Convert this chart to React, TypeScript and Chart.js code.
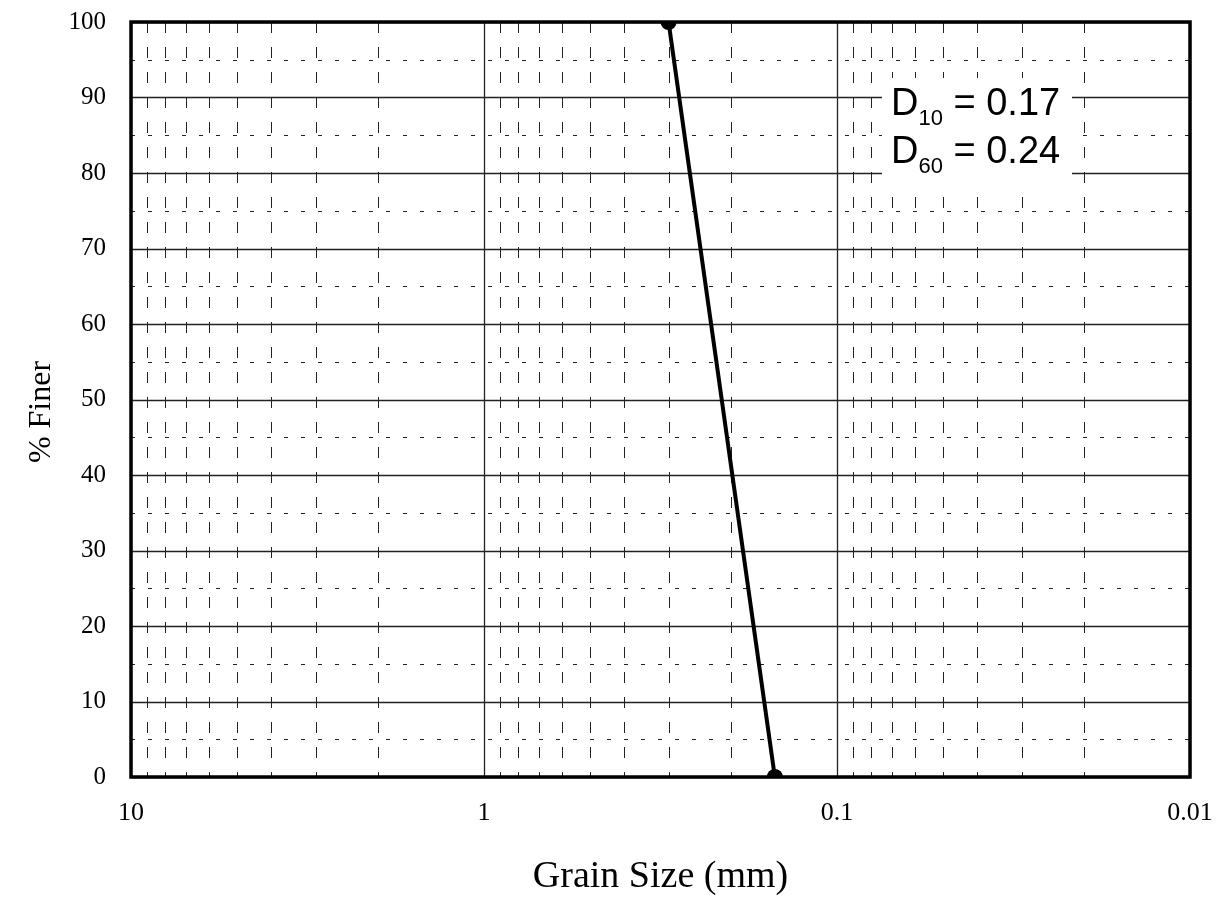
import React, { useEffect, useRef } from "react";
import { Chart, registerables } from "chart.js";

Chart.register(...registerables);

// ---- data ----
const grainSize: number[] = [0.3, 0.15];
const percentFiner: number[] = [100, 0];

const xDecadeTicks: number[] = [10, 1, 0.1, 0.01];
const xMinorMultipliers: number[] = [2, 3, 4, 5, 6, 7, 8, 9];
const yMajorTicks: number[] = [0, 10, 20, 30, 40, 50, 60, 70, 80, 90, 100];
const yMinorTicks: number[] = [5, 15, 25, 35, 45, 55, 65, 75, 85, 95];

const annotationSubscripts: string[] = ["10", "60"];
const annotationValues: string[] = ["0.17", "0.24"];

const xTitle = "Grain Size (mm)";
const yTitle = "% Finer";

const gridPlugin = {
  id: "customGrid",
  beforeDatasetsDraw(chart: any) {
    const { ctx, chartArea, scales } = chart;
    const xs = scales.x;
    const ys = scales.y;
    const { left, right, top, bottom } = chartArea;
    ctx.save();
    ctx.strokeStyle = "#222";
    ctx.lineWidth = 1;
    ctx.setLineDash([11, 14]);
    for (let i = 1; i < xDecadeTicks.length; i++) {
      const base = xDecadeTicks[i];
      for (const m of xMinorMultipliers) {
        const px = Math.round(xs.getPixelForValue(base * m)) + 0.5;
        ctx.beginPath();
        ctx.moveTo(px, top);
        ctx.lineTo(px, bottom);
        ctx.stroke();
      }
    }
    ctx.setLineDash([4, 13]);
    for (const v of yMinorTicks) {
      const py = Math.round(ys.getPixelForValue(v)) + 0.5;
      ctx.beginPath();
      ctx.moveTo(left, py);
      ctx.lineTo(right, py);
      ctx.stroke();
    }
    ctx.setLineDash([]);
    ctx.lineWidth = 1.3;
    for (const v of xDecadeTicks) {
      const px = Math.round(xs.getPixelForValue(v)) + 0.5;
      ctx.beginPath();
      ctx.moveTo(px, top);
      ctx.lineTo(px, bottom);
      ctx.stroke();
    }
    for (const v of yMajorTicks) {
      const py = Math.round(ys.getPixelForValue(v)) + 0.5;
      ctx.beginPath();
      ctx.moveTo(left, py);
      ctx.lineTo(right, py);
      ctx.stroke();
    }

    ctx.fillStyle = "#fff";
    ctx.fillRect(882, 78, 190, 116);
    ctx.fillStyle = "#000";
    ctx.textBaseline = "alphabetic";
    ctx.textAlign = "left";
    const big = "38px 'Liberation Sans', Arial, sans-serif";
    const small = "22px 'Liberation Sans', Arial, sans-serif";
    const baselines = [115, 163];
    annotationSubscripts.forEach((sub, i) => {
      let x = 891;
      const b = baselines[i];
      ctx.font = big;
      ctx.fillText("D", x, b);
      x += ctx.measureText("D").width;
      ctx.font = small;
      ctx.fillText(sub, x, b + 10);
      x += ctx.measureText(sub).width;
      ctx.font = big;
      ctx.fillText(" = " + annotationValues[i], x, b);
    });
    ctx.restore();
  },
  afterDraw(chart: any) {
    const { ctx, chartArea } = chart;
    const { left, right, top, bottom } = chartArea;
    ctx.save();
    ctx.strokeStyle = "#000";
    ctx.lineWidth = 3.5;
    ctx.strokeRect(left, top, right - left, bottom - top);

    ctx.fillStyle = "#000";
    ctx.font = "38px 'Liberation Serif', 'Times New Roman', serif";
    ctx.textAlign = "center";
    ctx.textBaseline = "alphabetic";
    ctx.fillText(xTitle, (left + right) / 2, 887);

    ctx.translate(50, 412);
    ctx.rotate(-Math.PI / 2);
    ctx.font = "32px 'Liberation Serif', 'Times New Roman', serif";
    ctx.fillText(yTitle, 0, 0);
    ctx.restore();
  },
};

export default function App() {
  const canvasRef = useRef<HTMLCanvasElement | null>(null);

  useEffect(() => {
    document.body.style.margin = "0";
    const canvas = canvasRef.current;
    if (!canvas) return;
    const chart = new Chart(canvas, {
      type: "line",
      data: {
        datasets: [
          {
            data: grainSize.map((g, i) => ({ x: g, y: percentFiner[i] })),
            borderColor: "#000",
            backgroundColor: "#000",
            borderWidth: 4,
            pointRadius: 8,
            pointBackgroundColor: "#000",
            pointBorderColor: "#000",
            pointBorderWidth: 0,
            tension: 0,
            clip: 0,
          } as any,
        ],
      },
      options: {
        responsive: false,
        animation: false,
        layout: { padding: { top: 22, right: 32, left: 0, bottom: 0 } },
        plugins: { legend: { display: false }, tooltip: { enabled: false } },
        scales: {
          x: {
            type: "logarithmic",
            reverse: true,
            min: 0.01,
            max: 10,
            grid: { display: false, drawTicks: false },
            border: { display: false },
            afterBuildTicks: (scale: any) => {
              scale.ticks = xDecadeTicks.map((v) => ({ value: v }));
            },
            afterFit: (scale: any) => {
              scale.height = 124;
              scale.paddingLeft = 0;
              scale.paddingRight = 0;
            },
            ticks: {
              autoSkip: false,
              maxRotation: 0,
              padding: 21,
              color: "#000",
              font: { family: "'Liberation Serif', 'Times New Roman', serif", size: 26 },
              callback: (v: any) => String(v),
            },
          },
          y: {
            type: "linear",
            min: 0,
            max: 100,
            grid: { display: false, drawTicks: false },
            border: { display: false },
            afterBuildTicks: (scale: any) => {
              scale.ticks = yMajorTicks.map((v) => ({ value: v }));
            },
            afterFit: (scale: any) => {
              scale.width = 131;
              scale.paddingTop = 0;
              scale.paddingBottom = 0;
            },
            ticks: {
              padding: 25,
              color: "#000",
              font: { family: "'Liberation Serif', 'Times New Roman', serif", size: 25 },
            },
          },
        },
      } as any,
      plugins: [gridPlugin],
    });
    return () => chart.destroy();
  }, []);

  return (
    <div style={{ width: 1222, height: 901, background: "#fff" }}>
      <canvas ref={canvasRef} width={1222} height={901} style={{ display: "block" }} />
    </div>
  );
}
